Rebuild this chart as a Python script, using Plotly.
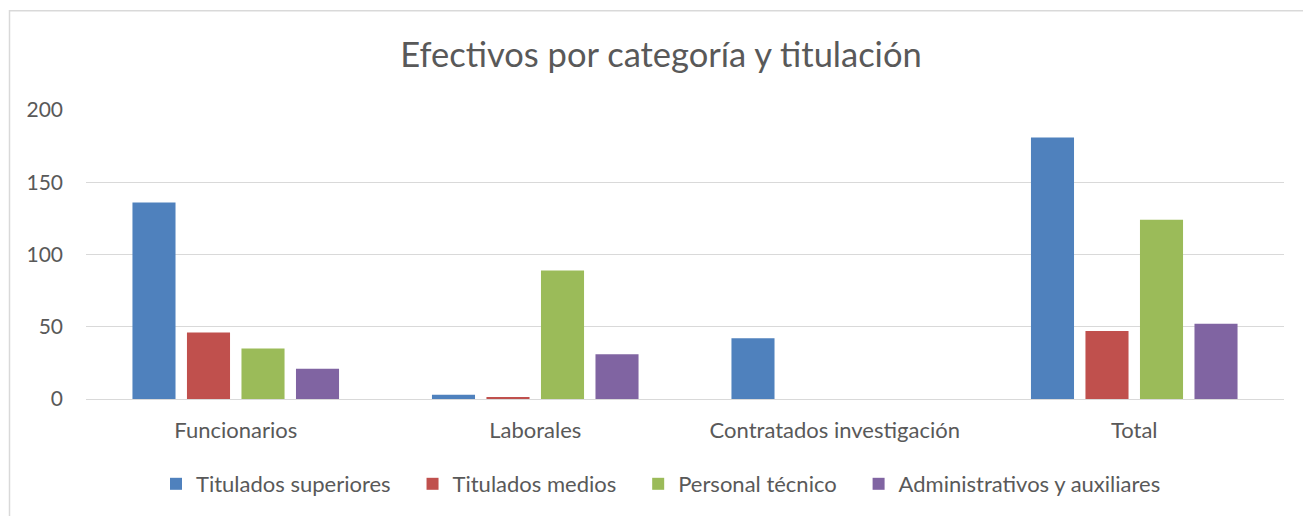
import plotly.graph_objects as go

categories = ["Funcionarios", "Laborales", "Contratados investigación", "Total"]
series_names = ["Titulados superiores", "Titulados medios", "Personal técnico", "Administrativos y auxiliares"]
titulados_superiores = [136, 3, 42, 181]
titulados_medios = [46, 1, 0, 47]
personal_tecnico = [35, 89, 0, 124]
administrativos = [21, 31, 0, 52]
colors = ["#4f81bd", "#c0504d", "#9bbb59", "#8064a2"]

FONT = "Lato"
TXT = "#595959"
GRID = "#d9d9d9"
PAD = "\u00a0" * 3

fig = go.Figure()
for i, (name, vals, col) in enumerate(zip(series_names,
                           [titulados_superiores, titulados_medios, personal_tecnico, administrativos],
                           colors)):
    label = name + (PAD if i < len(series_names) - 1 else "")
    fig.add_trace(go.Bar(x=categories, y=vals, name=label, marker=dict(color=col, line=dict(width=0))))

L, R, T, B = 86, 19, 110, 116
W, H = 1303, 516
pw = W - L - R
ph = H - T - B

def px_x(p):
    return (p - L) / pw

def px_y(p):
    return (H - B - p) / ph

fig.update_layout(
    width=W, height=H,
    margin=dict(l=L, r=R, t=T, b=B),
    paper_bgcolor="white", plot_bgcolor="white",
    barmode="group", bargap=0.272, bargroupgap=0.21,
    font=dict(family=FONT, color=TXT, size=22),
    title=dict(text="Efectivos por categoría y titulación", x=661 / W, xanchor="center",
               y=1 - 55 / H, yanchor="middle", font=dict(size=34.5, color=TXT, family=FONT)),
    xaxis=dict(showgrid=False, showline=True, linecolor=GRID, linewidth=1,
               tickfont=dict(size=22, color=TXT), ticklabelstandoff=12),
    yaxis=dict(range=[0, 200], tickvals=[0, 50, 100, 150, 200], showgrid=True, gridcolor=GRID,
               gridwidth=1, zeroline=False, showline=False,
               tickfont=dict(size=21, color=TXT), ticklabelstandoff=22),
    legend=dict(orientation="h", x=px_x(661), xanchor="center", y=px_y(484), yanchor="middle",
                font=dict(size=22, color=TXT), itemwidth=30, traceorder="normal"),
    shapes=[dict(type="rect", xref="paper", yref="paper",
                 x0=px_x(9.5), x1=px_x(1320), y0=px_y(540), y1=px_y(10.5),
                 line=dict(color=GRID, width=1.5), fillcolor="rgba(0,0,0,0)", layer="below")],
)

fig.write_html("out.html", config={"displayModeBar": False},
               post_script="document.body.style.margin='0';")
